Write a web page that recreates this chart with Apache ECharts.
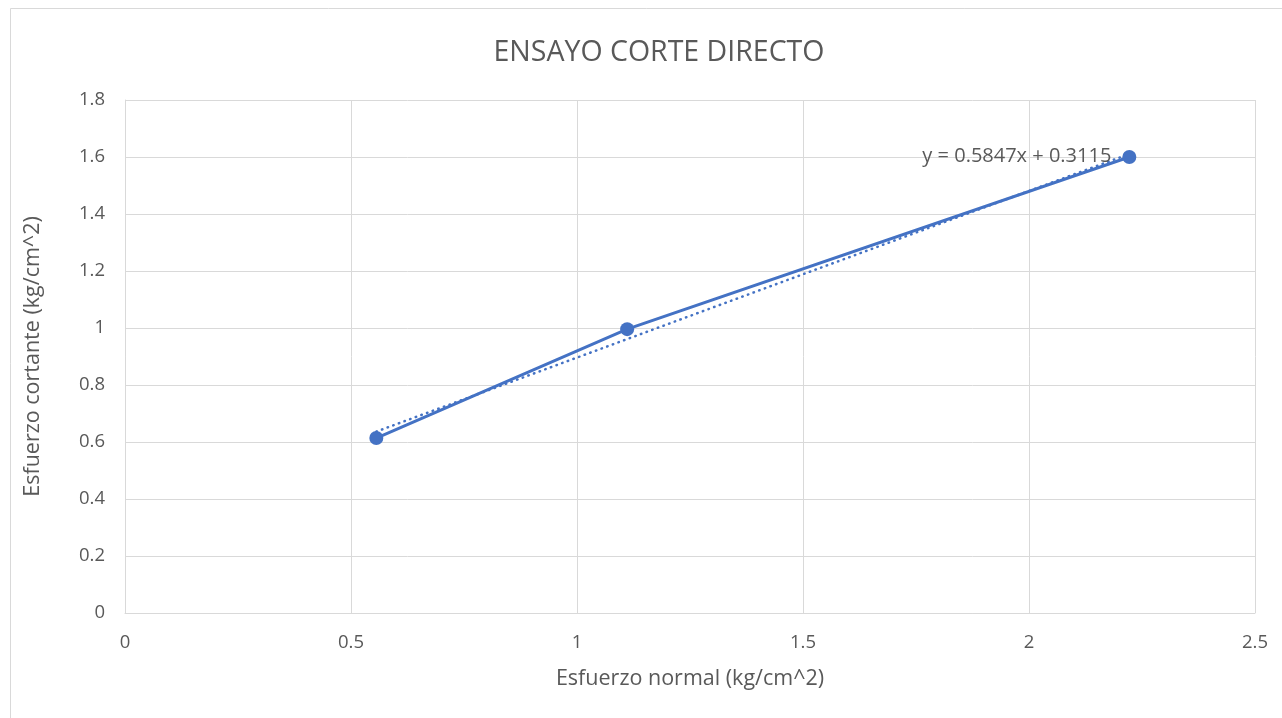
<!DOCTYPE html>
<html>
<head>
<meta charset="utf-8">
<script src="https://cdn.jsdelivr.net/npm/echarts@6/dist/echarts.min.js"></script>
<style>
  html, body { margin: 0; padding: 0; background: #fff; }
  #chart { width: 1282px; height: 718px; }
</style>
</head>
<body>
<div id="chart"></div>
<script>
// Direct shear test results
const normalStress = [0.556, 1.111, 2.222];   // kg/cm^2
const shearStress  = [0.614, 0.996, 1.600];   // kg/cm^2
// Linear fit as reported on the chart
const trendSlope = 0.5847;
const trendIntercept = 0.3115;
const trendLabel = 'y = 0.5847x + 0.3115';

const xTicks = [0, 0.5, 1, 1.5, 2, 2.5];
const yTicks = [0, 0.2, 0.4, 0.6, 0.8, 1, 1.2, 1.4, 1.6, 1.8];

const points = normalStress.map((x, i) => [x, shearStress[i]]);
const xMin = Math.min(...normalStress), xMax = Math.max(...normalStress);
const trend = [
  [xMin, trendSlope * xMin + trendIntercept],
  [xMax, trendSlope * xMax + trendIntercept]
];

const font = '"Open Sans", "Liberation Sans", sans-serif';
const blue = '#4472C4';
const grey = '#595959';

const chart = echarts.init(document.getElementById('chart'), null, { renderer: 'canvas' });
chart.setOption({
  animation: false,
  backgroundColor: '#fff',
  graphic: [{
    type: 'rect',
    shape: { x: 10.5, y: 8.5, width: 1300, height: 800 },
    style: { fill: 'none', stroke: '#d9d9d9', lineWidth: 1 },
    silent: true
  }],
  title: {
    text: 'ENSAYO CORTE DIRECTO',
    left: 654,
    textAlign: 'center',
    top: 33,
    textStyle: { fontFamily: font, fontSize: 28.5, fontWeight: 'normal', color: grey }
  },
  grid: { left: 125, right: 27, top: 100, bottom: 105, containLabel: false },
  xAxis: {
    type: 'value',
    min: xTicks[0], max: xTicks[xTicks.length - 1], interval: 0.5,
    name: 'Esfuerzo normal (kg/cm^2)',
    nameLocation: 'middle', nameGap: 55,
    nameTextStyle: { fontFamily: font, fontSize: 21.5, color: grey },
    axisLine: { show: true, lineStyle: { color: '#d9d9d9', width: 1 } },
    axisTick: { show: false },
    axisLabel: { fontFamily: font, fontSize: 18.5, color: grey, margin: 20 },
    splitLine: { show: true, lineStyle: { color: '#d9d9d9', width: 1 } }
  },
  yAxis: {
    type: 'value',
    min: yTicks[0], max: yTicks[yTicks.length - 1], interval: 0.2,
    name: 'Esfuerzo cortante (kg/cm^2)',
    nameLocation: 'middle', nameGap: 81,
    nameTextStyle: { fontFamily: font, fontSize: 21.5, color: grey },
    axisLine: { show: true, lineStyle: { color: '#d9d9d9', width: 1 } },
    axisTick: { show: false },
    axisLabel: { fontFamily: font, fontSize: 18.5, color: grey, margin: 20,
      formatter: v => String(Math.round(v * 10) / 10) },
    splitLine: { show: true, lineStyle: { color: '#d9d9d9', width: 1 } }
  },
  series: [
    {
      name: 'trend',
      type: 'line',
      data: trend,
      symbol: 'none',
      lineStyle: { color: blue, width: 2.5, type: [0.5, 5.5], cap: 'round' },
      endLabel: {
        show: true,
        formatter: trendLabel,
        fontFamily: font, fontSize: 20, color: grey,
        offset: [-215, 2]
      },
      z: 2
    },
    {
      name: 'data',
      type: 'line',
      data: points,
      symbol: 'circle',
      symbolSize: 14,
      lineStyle: { color: blue, width: 3 },
      itemStyle: { color: blue },
      z: 3
    }
  ]
});
</script>
</body>
</html>
